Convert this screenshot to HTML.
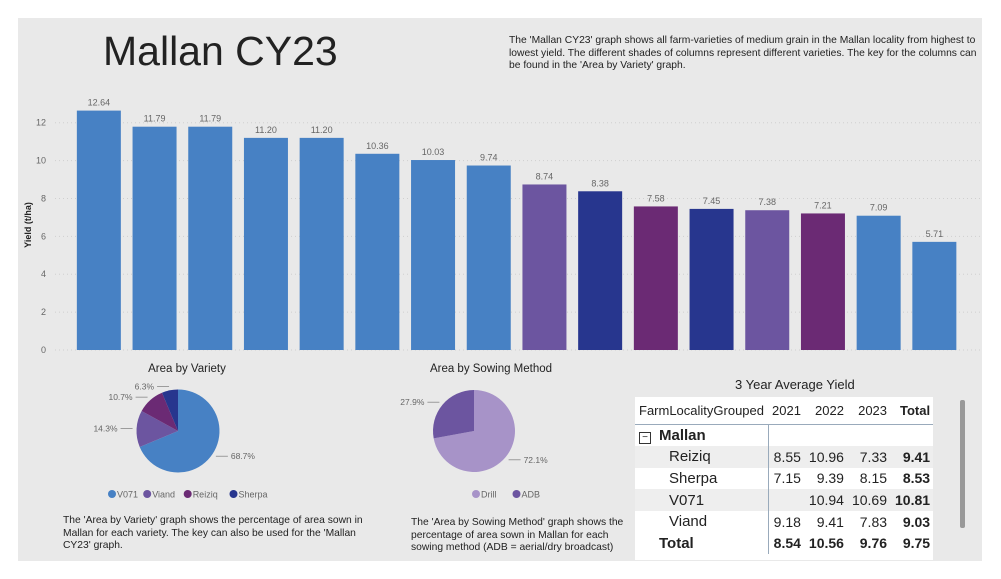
<!DOCTYPE html>
<html><head><meta charset="utf-8"><style>
body{margin:0;width:1001px;height:579px;background:#fff;font-family:"Liberation Sans",sans-serif;position:relative;overflow:hidden}
#panel{position:absolute;left:18px;top:18px;width:964px;height:543px;background:#e9e9e9}
.abs{position:absolute}
.desc{font-size:10.3px;color:#222;line-height:12.5px}
table{border-collapse:collapse;table-layout:auto}
td{font-size:14px;color:#222;padding:0 4px;height:21.6px;text-align:right}
</style></head><body>
<div id="panel"></div>
<div class="abs" style="left:103px;top:28px;font-size:41px;color:#222">Mallan CY23</div>
<div class="abs desc" style="left:509px;top:35px;width:468px">The 'Mallan CY23' graph shows all farm-varieties of medium grain in the Mallan locality from highest to lowest yield. The different shades of columns represent different varieties. The key for the columns can be found in the 'Area by Variety' graph.</div>
<svg class="abs" style="left:0;top:0" width="1001" height="579" id="svg"></svg>
<div class="abs desc" style="left:63px;top:515px;width:300px">The 'Area by Variety' graph shows the percentage of area sown in Mallan for each variety. The key can also be used for the 'Mallan CY23' graph.</div>
<div class="abs desc" style="left:411px;top:517px;white-space:nowrap">The 'Area by Sowing Method' graph shows the<br>percentage of area sown in Mallan for each<br>sowing method (ADB = aerial/dry broadcast)</div>
<div class="abs" style="left:735px;top:377px;font-size:13px;color:#222">3 Year Average Yield</div>
<div class="abs" style="left:635px;top:397px;width:298px;height:163px;background:#fff;overflow:hidden">
<table style="width:298px">
<tr style="height:27px;border-bottom:1px solid #9ab"><td style="text-align:left;font-size:13px;height:26px">FarmLocalityGrouped</td><td style="font-size:13px">2021</td><td style="font-size:13px">2022</td><td style="font-size:13px">2023</td><td style="font-size:13px;font-weight:bold">Total</td></tr>
<tr><td style="text-align:left;font-weight:bold;font-size:15px;border-right:1px solid #9ab"><span style="display:inline-block;width:10px;height:10px;border:1px solid #333;font-size:10px;line-height:9px;text-align:center;margin-right:8px;font-weight:normal">−</span>Mallan</td><td></td><td></td><td></td><td></td></tr>
<tr style="background:#eee"><td style="text-align:left;padding-left:34px;font-size:15px;border-right:1px solid #9ab">Reiziq</td><td>8.55</td><td>10.96</td><td>7.33</td><td><b>9.41</b></td></tr>
<tr><td style="text-align:left;padding-left:34px;font-size:15px;border-right:1px solid #9ab">Sherpa</td><td>7.15</td><td>9.39</td><td>8.15</td><td><b>8.53</b></td></tr>
<tr style="background:#eee"><td style="text-align:left;padding-left:34px;font-size:15px;border-right:1px solid #9ab">V071</td><td></td><td>10.94</td><td>10.69</td><td><b>10.81</b></td></tr>
<tr><td style="text-align:left;padding-left:34px;font-size:15px;border-right:1px solid #9ab">Viand</td><td>9.18</td><td>9.41</td><td>7.83</td><td><b>9.03</b></td></tr>
<tr style="font-weight:bold"><td style="text-align:left;padding-left:24px;font-size:15px;border-right:1px solid #9ab">Total</td><td>8.54</td><td>10.56</td><td>9.76</td><td>9.75</td></tr>
</table></div>
<div class="abs" style="left:960px;top:400px;width:5px;height:128px;background:#999;border-radius:2px"></div>
<script>
const values=[12.64,11.79,11.79,11.20,11.20,10.36,10.03,9.74,8.74,8.38,7.58,7.45,7.38,7.21,7.09,5.71];
const barVarieties=["V071","V071","V071","V071","V071","V071","V071","V071","Viand","Sherpa","Reiziq","Sherpa","Viand","Reiziq","V071","V071"];
const yTicks=[0,2,4,6,8,10,12];
const varieties=["V071","Viand","Reiziq","Sherpa"];
const varietyShares=[68.7,14.3,10.7,6.3];
const methods=["Drill","ADB"];
const methodShares=[72.1,27.9];
const colors={V071:"#4781c4",Viand:"#6c55a0",Reiziq:"#6b2a74",Sherpa:"#27368e",Drill:"#a793c8",ADB:"#6c55a0"};
const NS="http://www.w3.org/2000/svg",svg=document.getElementById('svg');
function mk(t,a,txt){const e=document.createElementNS(NS,t);for(const k in a)e.setAttribute(k,a[k]);if(txt!=null)e.textContent=txt;svg.appendChild(e);return e;}
const y0=350,py=18.94,x0=71,pitch=55.7,bw=44;
const Y=v=>y0-v*py, X=i=>x0+i*pitch+(pitch-bw)/2;
yTicks.forEach(t=>{
 const l=mk('line',{x1:55,x2:980,y1:Y(t),y2:Y(t),stroke:'#cfcfcf','stroke-dasharray':'1,3'});
 
 const tx=mk('text',{x:46,y:Y(t)+3,'font-size':9,fill:'#666','text-anchor':'end'},t);
 
});
const yt=mk('text',{transform:'translate(31,225) rotate(-90)','font-size':9,'font-weight':'bold',fill:'#222','text-anchor':'middle'},'Yield (t/ha)');

values.forEach((v,i)=>{
 const r=mk('rect',{x:X(i),y:Y(v),width:bw,height:v*py,fill:colors[barVarieties[i]]});
 
 const t=mk('text',{x:X(i)+bw/2,y:Y(v)-5,'font-size':9,fill:'#666','text-anchor':'middle'},v.toFixed(2));
 
});
function pie(cx,cy,r,names,shares,title,tx,legendX,name){
 const tt=mk('text',{x:tx,y:372,'font-size':11.5,fill:'#222','text-anchor':'middle'},title);
 
 let a=0;
 shares.forEach((s,i)=>{
  const a1=a+s/100*2*Math.PI,p=(an)=>[cx+r*Math.sin(an),cy-r*Math.cos(an)];
  const [x1,y1]=p(a),[x2,y2]=p(a1);
  const sl=mk('path',{d:`M${cx},${cy}L${x1},${y1}A${r},${r} 0 ${s>50?1:0} 1 ${x2},${y2}Z`,fill:colors[names[i]]});
  
  const m=(a+a1)/2,[lx,ly]=[cx+(r+4)*Math.sin(m),cy-(r+4)*Math.cos(m)];
  const right=Math.sin(m)>=0,ex=lx+(right?12:-12);
  mk('polyline',{points:`${lx},${ly} ${ex},${ly}`,stroke:'#888',fill:'none','stroke-width':0.8});
  const lb=mk('text',{x:ex+(right?3:-3),y:ly+3,'font-size':8.5,fill:'#666','text-anchor':right?'start':'end'},s.toFixed(1)+'%');
  
  a=a1;
 });
 let lx=legendX;
 names.forEach(n=>{
  const c=mk('circle',{cx:lx,cy:494,r:4,fill:colors[n]});
  
  const t=mk('text',{x:lx+5,y:497.5,'font-size':9,fill:'#666'},n);
  
  lx+=5+n.length*5.3+9;
 });
}
pie(178,431,41.5,varieties,varietyShares,'Area by Variety',187,112,'variety-pie');
pie(474,431,41,methods,methodShares,'Area by Sowing Method',491,476,'sowing-pie');
</script>
</body></html>
